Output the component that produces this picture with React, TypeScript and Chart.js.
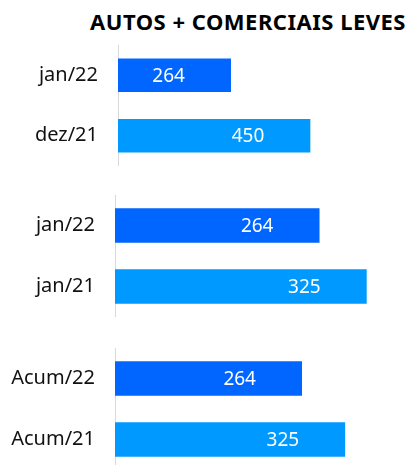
import React, { useEffect, useRef } from "react";
import { Chart, registerables } from "chart.js";
Chart.register(...registerables);

const TITLE = "AUTOS + COMERCIAIS LEVES";
const group1Labels = ["jan/22", "dez/21"];
const group1Values = [264, 450];
const group2Labels = ["jan/22", "jan/21"];
const group2Values = [264, 325];
const group3Labels = ["Acum/22", "Acum/21"];
const group3Values = [264, 325];
const barColors = ["#0066FF", "#0099FF"];
const axisMax = [689, 384, 420];

const FONT = "'Noto Sans', 'Open Sans', sans-serif";

const valueLabelPlugin = {
  id: "valueLabels",
  afterDatasetsDraw(chart: any) {
    const ctx = chart.ctx;
    const meta = chart.getDatasetMeta(0);
    const ds = chart.data.datasets[0];
    ctx.save();
    ctx.font = `19px ${FONT}`;
    ctx.fillStyle = "#ffffff";
    ctx.textAlign = "center";
    ctx.textBaseline = "middle";
    meta.data.forEach((bar: any, i: number) => {
      ctx.fillText(String(ds.data[i]), bar.x - 62, bar.y + 1);
    });
    ctx.restore();
  },
};

type GroupProps = {
  labels: string[];
  values: number[];
  max: number;
  axisWidth: number;
  top: number;
  height: number;
  thickness: number;
};

function BarGroup({ labels, values, max, axisWidth, top, height, thickness }: GroupProps) {
  const ref = useRef<HTMLCanvasElement | null>(null);
  useEffect(() => {
    if (!ref.current) return;
    const chart = new Chart(ref.current, {
      type: "bar",
      data: {
        labels,
        datasets: [
          {
            data: values,
            backgroundColor: barColors,
            barThickness: thickness,
          },
        ],
      },
      options: {
        indexAxis: "y",
        animation: false,
        responsive: true,
        maintainAspectRatio: false,
        devicePixelRatio: 1,
        layout: { padding: 0, autoPadding: false },
        plugins: { legend: { display: false }, tooltip: { enabled: false }, title: { display: false } },
        scales: {
          x: { type: "linear", display: false, min: 0, max },
          y: {
            type: "category",
            offset: true,
            grid: { display: false },
            border: { display: true, color: "#d9d9d9", width: 1 },
            ticks: { color: "#111111", font: { size: 20, family: FONT }, padding: 12 },
            afterFit: (s: any) => {
              s.width = axisWidth;
              s.paddingTop = 0;
              s.paddingBottom = 0;
            },
          },
        },
      },
      plugins: [valueLabelPlugin],
    } as any);
    return () => chart.destroy();
  }, []);
  return (
    <div style={{ position: "absolute", left: 0, top, width: 412, height }}>
      <canvas ref={ref} />
    </div>
  );
}

export default function App() {
  return (
    <div
      style={{
        position: "fixed",
        left: 0,
        top: 0,
        width: 412,
        height: 465,
        overflow: "hidden",
        background: "#ffffff",
      }}
    >
      <div
        style={{
          position: "absolute",
          right: 6,
          top: 10,
          fontFamily: FONT,
          fontWeight: 700,
          fontSize: 22,
          letterSpacing: "0.5px",
          lineHeight: "22px",
          color: "#000",
          whiteSpace: "nowrap",
        }}
      >
        {TITLE}
      </div>
      <BarGroup labels={group1Labels} values={group1Values} max={axisMax[0]} axisWidth={118} top={45} height={121} thickness={33} />
      <BarGroup labels={group2Labels} values={group2Values} max={axisMax[1]} axisWidth={115} top={195} height={122} thickness={34} />
      <BarGroup labels={group3Labels} values={group3Values} max={axisMax[2]} axisWidth={115} top={348} height={122} thickness={34} />
    </div>
  );
}
